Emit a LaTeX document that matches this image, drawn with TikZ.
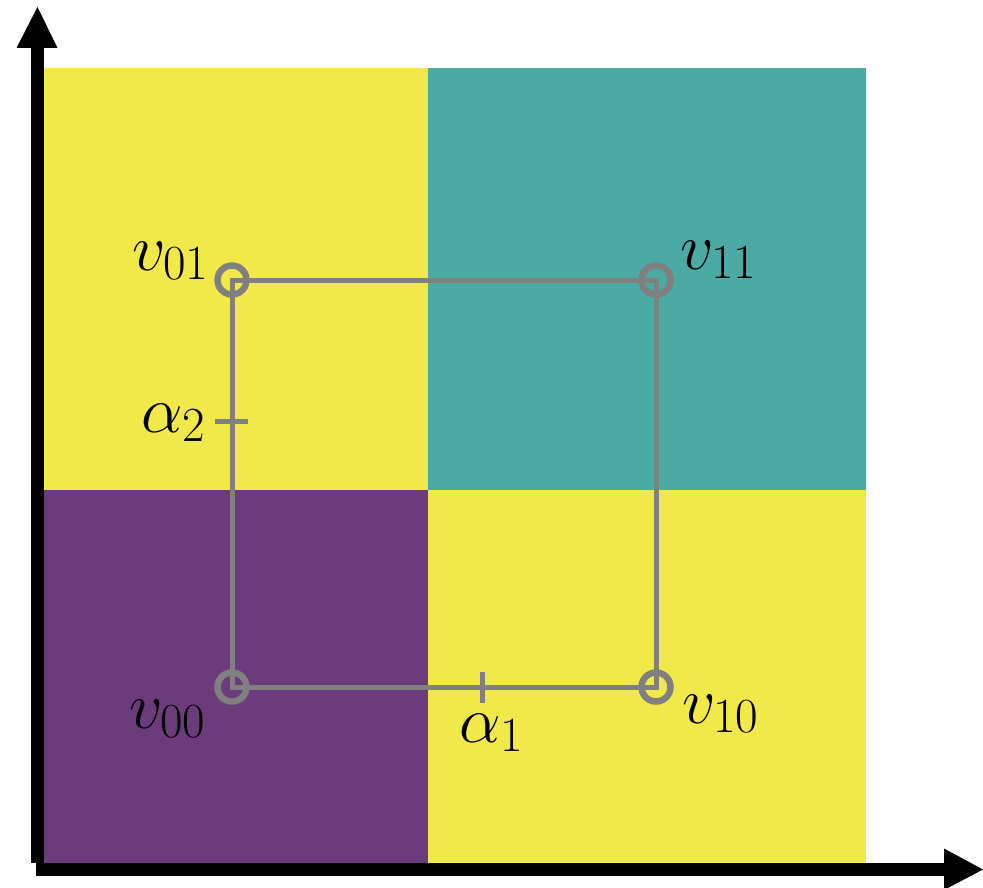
\RequirePackage{fix-cm}
\documentclass[tikz,border=0pt]{standalone}
\DeclareMathSizes{66}{66}{49}{36}
\definecolor{vyellow}{RGB}{241,233,74}
\definecolor{vteal}{RGB}{76,170,164}
\definecolor{vpurple}{RGB}{108,59,124}
\definecolor{vgray}{RGB}{128,128,128}
\newcommand{\mainsz}{\fontsize{66}{72}\selectfont}
\newcommand{\lab}[2]{\mainsz$#1_{#2}$}
\tikzset{
  axisline/.style={line width=13pt, black},
  axishead/.style={fill=black, draw=none},
  gridline/.style={line width=5pt, vgray},
  corner/.style={circle, draw=vgray, line width=6.5pt, minimum size=29pt, inner sep=0pt},
  tick/.style={line width=5pt, vgray},
  lbl/.style={anchor=base west, inner sep=0pt}
}
\begin{document}
\begin{tikzpicture}[x=1pt,y=-1pt]
\useasboundingbox (0,0) rectangle (983,888);
% colored cells
\fill[vyellow] (43,68) rectangle (428,490);
\fill[vteal] (428,68) rectangle (866,490);
\fill[vpurple] (43,490) rectangle (428,863);
\fill[vyellow] (428,490) rectangle (866,863);
% axes
\coordinate (ybot) at (37.5,863);
\coordinate (ytop) at (37.5,46);
\coordinate (xleft) at (36,869.5);
\coordinate (xright) at (946,869.5);
\draw[axisline] (ybot) -- (ytop);
\draw[axisline] (xleft) -- (xright);
\fill[axishead] (16.5,48) -- (57.5,48) -- (37.5,7) -- cycle;
\fill[axishead] (944,848.5) -- (944,890) -- (983,869.5) -- cycle;
% square path
\coordinate (v00) at (232,687);
\coordinate (v10) at (656,687);
\coordinate (v11) at (656,280);
\coordinate (v01) at (232,280);
\draw[gridline, line join=miter] (v00) -- (v10) -- (v11) -- (v01) -- cycle;
\node[corner] (c00) at (v00) {};
\node[corner] (c10) at (v10) {};
\node[corner] (c11) at (v11) {};
\node[corner] (c01) at (v01) {};
% ticks
\coordinate (a2l) at (215,421);
\coordinate (a2r) at (248,421);
\draw[tick] (a2l) -- (a2r);
\coordinate (a1t) at (482,672);
\coordinate (a1b) at (482,703);
\draw[tick] (a1t) -- (a1b);
% labels
\node[lbl] (l01) at (132,270) {\lab{v}{01}};
\node[lbl] (l11) at (680,269) {\lab{v}{11}};
\node[lbl] (l00) at (129,728) {\lab{v}{00}};
\node[lbl] (l10) at (682,723) {\lab{v}{10}};
\node[lbl] (la2) at (141,432) {\lab{\alpha}{2}};
\node[lbl] (la1) at (459,742) {\lab{\alpha}{1}};
\end{tikzpicture}
\end{document}
